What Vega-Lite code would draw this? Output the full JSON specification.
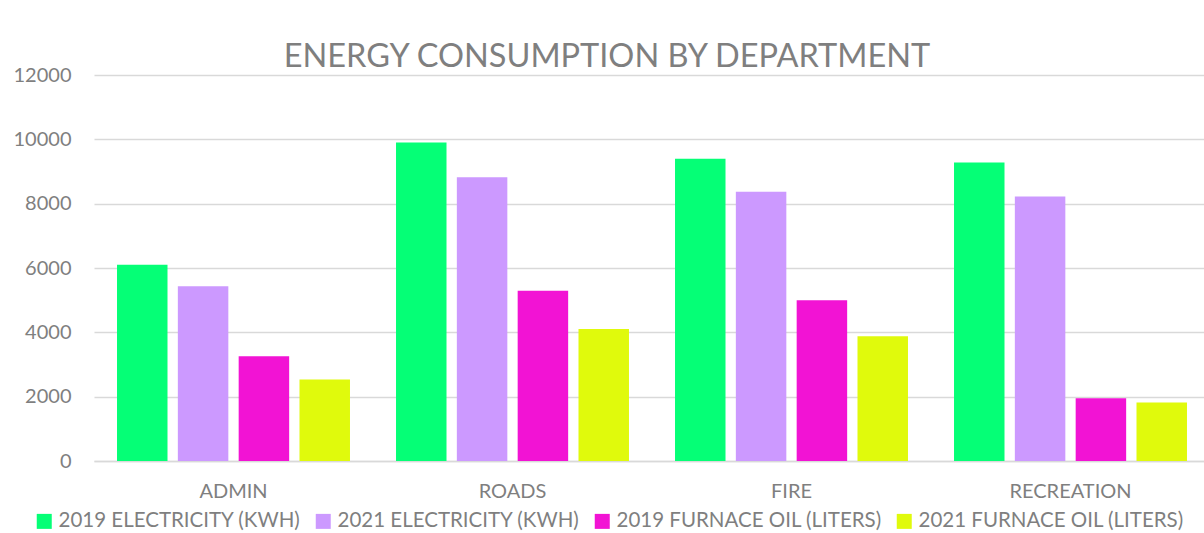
{
  "$schema": "https://vega.github.io/schema/vega-lite/v6.json",
  "autosize": {"type": "none"},
  "width": 1110,
  "height": 386,
  "padding": {"left": 94, "top": 75, "right": 0, "bottom": 72},
  "background": "white",
  "title": {
    "text": "ENERGY CONSUMPTION BY DEPARTMENT",
    "font": "Lato",
    "fontSize": 32.5,
    "fontWeight": "normal",
    "color": "#7f7f7f",
    "anchor": "middle",
    "baseline": "alphabetic",
    "offset": 10,
    "dx": -42,
    "dy": 44
  },
  "data": {
    "values": [
      {"dept": "ADMIN", "series": "2019 ELECTRICITY (KWH)", "value": 6100},
      {"dept": "ADMIN", "series": "2021 ELECTRICITY (KWH)", "value": 5430},
      {"dept": "ADMIN", "series": "2019 FURNACE OIL (LITERS)", "value": 3260},
      {"dept": "ADMIN", "series": "2021 FURNACE OIL (LITERS)", "value": 2530},
      {"dept": "ROADS", "series": "2019 ELECTRICITY (KWH)", "value": 9900},
      {"dept": "ROADS", "series": "2021 ELECTRICITY (KWH)", "value": 8820},
      {"dept": "ROADS", "series": "2019 FURNACE OIL (LITERS)", "value": 5290},
      {"dept": "ROADS", "series": "2021 FURNACE OIL (LITERS)", "value": 4100},
      {"dept": "FIRE", "series": "2019 ELECTRICITY (KWH)", "value": 9400},
      {"dept": "FIRE", "series": "2021 ELECTRICITY (KWH)", "value": 8370},
      {"dept": "FIRE", "series": "2019 FURNACE OIL (LITERS)", "value": 5000},
      {"dept": "FIRE", "series": "2021 FURNACE OIL (LITERS)", "value": 3880},
      {"dept": "RECREATION", "series": "2019 ELECTRICITY (KWH)", "value": 9280},
      {"dept": "RECREATION", "series": "2021 ELECTRICITY (KWH)", "value": 8220},
      {"dept": "RECREATION", "series": "2019 FURNACE OIL (LITERS)", "value": 1950},
      {"dept": "RECREATION", "series": "2021 FURNACE OIL (LITERS)", "value": 1820}
    ]
  },
  "mark": {"type": "bar"},
  "encoding": {
    "x": {
      "field": "dept",
      "type": "nominal",
      "sort": ["ADMIN", "ROADS", "FIRE", "RECREATION"],
      "scale": {"range": [0, 1116], "paddingInner": 0.165, "paddingOuter": 0.0825},
      "axis": {
        "title": null,
        "labelAngle": 0,
        "labelFont": "Lato",
        "labelFontSize": 20,
        "labelColor": "#7f7f7f",
        "labelPadding": 20,
        "ticks": false,
        "domain": true,
        "domainColor": "#d9d9d9",
        "domainWidth": 1.5,
        "grid": false
      }
    },
    "xOffset": {
      "field": "series",
      "type": "nominal",
      "sort": ["2019 ELECTRICITY (KWH)", "2021 ELECTRICITY (KWH)", "2019 FURNACE OIL (LITERS)", "2021 FURNACE OIL (LITERS)"],
      "scale": {"paddingInner": 0.17, "paddingOuter": 0}
    },
    "y": {
      "field": "value",
      "type": "quantitative",
      "scale": {"domain": [0, 12000], "nice": false},
      "axis": {
        "title": null,
        "values": [0, 2000, 4000, 6000, 8000, 10000, 12000],
        "format": "d",
        "labelFont": "Lato",
        "labelFontSize": 20,
        "labelColor": "#7f7f7f",
        "labelPadding": 23,
        "ticks": false,
        "domain": false,
        "grid": true,
        "gridColor": "#d9d9d9",
        "gridWidth": 1.5
      }
    },
    "color": {
      "field": "series",
      "type": "nominal",
      "scale": {
        "domain": ["2019 ELECTRICITY (KWH)", "2021 ELECTRICITY (KWH)", "2019 FURNACE OIL (LITERS)", "2021 FURNACE OIL (LITERS)"],
        "range": ["#05FF76", "#CC99FF", "#F213D4", "#E0FA0C"]
      },
      "legend": {
        "title": null,
        "orient": "none",
        "legendX": -60,
        "legendY": 436,
        "direction": "horizontal",
        "symbolType": "square",
        "symbolSize": 225,
        "symbolStrokeWidth": 0,
        "labelFont": "Lato",
        "labelFontSize": 20.5,
        "labelLimit": 0,
        "labelColor": "#7f7f7f",
        "labelOffset": 4,
        "columnPadding": 12,
        "padding": 0
      }
    }
  },
  "config": {
    "view": {"stroke": null}
  }
}
